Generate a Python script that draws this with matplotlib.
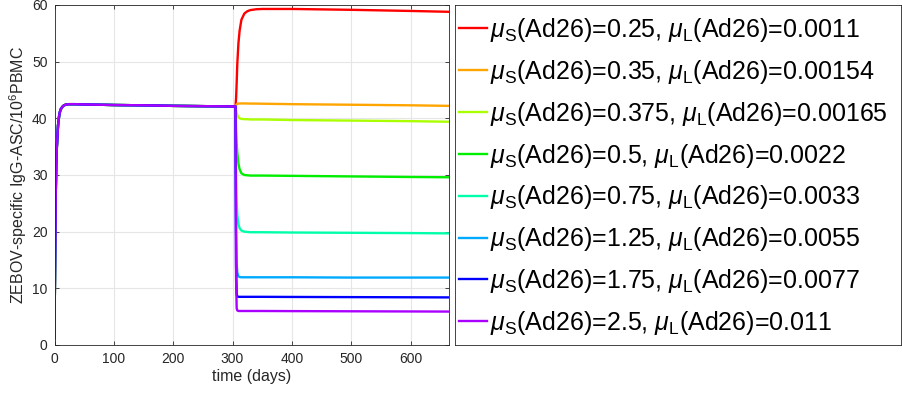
import numpy as np
import matplotlib
matplotlib.use("Agg")
import matplotlib.pyplot as plt

plt.rcParams['font.family'] = ['Liberation Sans', 'DejaVu Sans']
plt.rcParams['mathtext.fontset'] = 'custom'
plt.rcParams['mathtext.rm'] = 'Liberation Sans'
plt.rcParams['mathtext.it'] = 'Liberation Sans:italic'

# first dose: all curves share the same response
t_prime = [0, 1, 2, 3, 4, 6, 8, 10, 13, 16, 20, 25, 35, 50, 100, 150, 200, 250, 305]
y_prime = [1.2, 15, 26, 32, 35, 38.8, 40.6, 41.5, 42.0, 42.3, 42.45, 42.5, 42.5,
           42.45, 42.35, 42.3, 42.2, 42.15, 42.1]

# second dose, one row per parameter set
t_boost = [306, 307, 308, 310, 312, 315, 320, 325, 330, 340, 350, 400, 500, 600, 664]
y_red    = [43.5, 46.2, 49.5, 53.3, 55.5, 57.4, 58.5, 58.9, 59.1, 59.25, 59.3, 59.3, 59.15, 58.95, 58.8]
y_orange = [42.3, 42.45, 42.55, 42.6, 42.62, 42.63, 42.63, 42.62, 42.6, 42.6, 42.58, 42.5, 42.4, 42.3, 42.2]
y_yellow = [41.4, 40.9, 40.6, 40.2, 40.0, 39.9, 39.85, 39.85, 39.8, 39.8, 39.8, 39.7, 39.6, 39.5, 39.4]
y_green  = [38.0, 35.5, 34.0, 32.0, 31.0, 30.3, 30.0, 29.95, 29.9, 29.9, 29.9, 29.85, 29.75, 29.65, 29.6]
y_cyan   = [30.0, 25.5, 23.0, 21.3, 20.6, 20.2, 20.0, 19.95, 19.9, 19.9, 19.9, 19.85, 19.8, 19.75, 19.7]
y_sky    = [20.0, 14.5, 12.8, 12.1, 12.0, 11.95, 11.95, 11.95, 11.95, 11.95, 11.95, 11.95, 11.9, 11.9, 11.9]
y_blue   = [14.0, 9.0, 8.6, 8.5, 8.5, 8.5, 8.5, 8.5, 8.5, 8.5, 8.5, 8.48, 8.45, 8.42, 8.4]
y_purple = [12.0, 6.5, 6.1, 6.0, 6.0, 6.0, 6.0, 6.0, 6.0, 6.0, 6.0, 5.98, 5.95, 5.92, 5.9]

mu_S = ['0.25', '0.35', '0.375', '0.5', '0.75', '1.25', '1.75', '2.5']
mu_L = ['0.0011', '0.00154', '0.00165', '0.0022', '0.0033', '0.0055', '0.0077', '0.011']
boosts = [y_red, y_orange, y_yellow, y_green, y_cyan, y_sky, y_blue, y_purple]
colors = ['#FF0000', '#FFA500', '#AAFF00', '#00EE00', '#00FFAA', '#00AAFF', '#0000FF', '#AA00FF']

fig = plt.figure(figsize=(9.02, 3.95), dpi=100)
ax = fig.add_axes([54.5/902, 50/395, 394/902, 340/395])

for yb, c, s, l in zip(boosts, colors, mu_S, mu_L):
    tt = t_prime + t_boost
    yy = y_prime + yb
    lab = r'$\mu_{\rm S}$(Ad26)=' + s + r', $\mu_{\rm L}$(Ad26)=' + l
    ax.plot(tt, yy, color=c, lw=1.7, label=lab)

ax.set_xlim(0, 664)
ax.set_ylim(0, 60)
ax.set_xticks(np.arange(0, 700, 100))
ax.set_yticks(np.arange(0, 61, 10))
ax.grid(True, color='#e6e6e6', lw=0.8)
ax.set_axisbelow(True)
ax.tick_params(direction='in', length=3, top=True, right=True, labelsize=10,
               colors='#262626', width=0.6, pad=5)
for sp in ax.spines.values():
    sp.set_color('#262626')
    sp.set_linewidth(0.6)
ax.set_xlabel('time (days)', fontsize=11.5, color='#262626', labelpad=2)
ax.set_ylabel(r'ZEBOV-specific IgG-ASC/10$^{6}$PBMC', fontsize=11.5, color='#262626', labelpad=2)

# legend box
lax = fig.add_axes([455/902, 50/395, 446/902, 340/395])
lax.set_xticks([])
lax.set_yticks([])
for sp in lax.spines.values():
    sp.set_color('#262626')
    sp.set_linewidth(0.6)
handles, labels = ax.get_legend_handles_labels()
lax.legend(handles, labels, loc='upper left', frameon=False, fontsize=18,
           bbox_to_anchor=(0.008, 0.968), handlelength=1.15, handletextpad=0.1,
           labelspacing=0.555, borderaxespad=0.0, borderpad=0.0)

fig.savefig('out.png', dpi=100)
